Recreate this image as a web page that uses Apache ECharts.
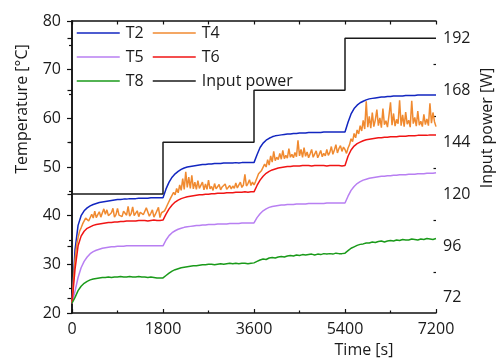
<!DOCTYPE html>
<html>
<head>
<meta charset="utf-8">
<script src="https://cdn.jsdelivr.net/npm/echarts@6/dist/echarts.min.js"></script>
<style>html,body{margin:0;padding:0;background:#fff}#c{width:496px;height:360px}</style>
</head>
<body>
<div id="c"></div>
<script>
// sampling steps of the temperature records (s)
const sampleStep = 60;
const t4Step = 30;

const T2 = [22.0, 33.0, 38.0, 40.0, 41.0, 41.6, 42.0, 42.3, 42.5, 42.7, 42.8, 42.9, 43.0, 43.1, 43.2, 43.3, 43.3, 43.4, 43.4, 43.5, 43.5, 43.5, 43.6, 43.6, 43.6, 43.6, 43.7, 43.7, 43.7, 43.7, 43.7,
  45.5, 46.9, 47.9, 48.6, 49.1, 49.5, 49.8, 50.0, 50.1, 50.2, 50.3, 50.4, 50.5, 50.5, 50.6, 50.6, 50.7, 50.7, 50.7, 50.8, 50.8, 50.8, 50.8, 50.9, 50.8, 50.9, 50.9, 50.9, 50.9, 50.9,
  52.5, 54.0, 54.9, 55.5, 55.9, 56.2, 56.4, 56.5, 56.6, 56.7, 56.8, 56.8, 56.9, 56.9, 57.0, 57.0, 57.0, 57.1, 57.1, 57.1, 57.1, 57.1, 57.2, 57.2, 57.2, 57.2, 57.2, 57.2, 57.2, 57.2,
  59.2, 60.9, 62.0, 62.7, 63.2, 63.5, 63.8, 64.0, 64.1, 64.2, 64.3, 64.4, 64.4, 64.5, 64.5, 64.6, 64.6, 64.6, 64.6, 64.7, 64.7, 64.7, 64.7, 64.8, 64.8, 64.8, 64.8, 64.8, 64.8, 64.8];

// T4 is recorded every 30 s (noisy sensor)
const T4 = [22.0, 27.0, 31.0, 33.8, 35.5, 36.8, 37.5, 38.3, 38.6, 39.5, 39.4, 38.9, 39.0, 40.3, 39.5, 40.9, 39.6, 40.2, 40.8, 39.7,
  39.8, 41.4, 40.3, 41.2, 40.0, 39.6, 40.6, 41.5, 39.7, 40.2, 41.5, 40.1, 40.2, 39.8, 40.9, 41.0, 40.1, 41.9, 39.9, 40.4,
  41.8, 40.0, 40.3, 41.0, 39.8, 40.7, 40.9, 40.2, 40.0, 41.6, 41.3, 39.9, 40.5, 41.2, 39.7, 40.3, 40.5, 41.7, 39.6, 40.6, 40.4,
  41.0, 41.6, 42.3, 42.6, 43.6, 43.2, 44.8, 44.3, 45.6, 44.7, 46.3, 45.2, 47.6, 45.4, 49.0, 45.8, 47.9, 45.6, 48.3, 45.5,
  46.9, 45.4, 47.2, 45.6, 46.0, 46.9, 45.3, 46.5, 45.4, 47.3, 45.5, 46.0, 45.2, 46.6, 45.5, 45.8, 46.4, 45.3, 45.9, 45.6,
  46.5, 45.4, 45.8, 46.2, 45.5, 46.1, 45.6, 46.7, 45.7, 46.0, 46.9, 45.8, 46.3, 48.5, 46.1, 46.6, 47.4, 46.2, 46.9, 46.3,
  47.0, 47.8, 48.6, 48.2, 49.3, 48.9, 50.6, 50.0, 51.5, 50.4, 52.3, 51.0, 53.2, 51.3, 52.0, 51.5, 52.8, 51.6, 53.4, 51.7,
  52.4, 51.8, 53.8, 52.0, 52.6, 51.9, 53.0, 52.1, 55.5, 52.3, 53.6, 52.0, 54.0, 52.2, 53.1, 51.9, 52.7, 53.6, 52.0, 52.4,
  53.3, 51.9, 52.6, 53.4, 52.1, 52.8, 52.3, 53.6, 52.4, 53.0, 54.2, 52.6, 53.5, 54.6, 52.9, 53.8, 54.4, 53.2, 54.1, 53.6,
  52.8, 53.9, 54.6, 55.8, 55.2, 56.9, 56.0, 57.6, 56.8, 58.5, 57.4, 59.6, 57.8, 63.5, 58.2, 60.4, 58.0, 61.2, 58.3, 59.7,
  61.8, 58.5, 60.1, 58.1, 62.0, 58.7, 59.5, 58.2, 60.6, 63.3, 58.6, 61.0, 58.4, 59.8, 58.9, 63.7, 58.5, 60.7, 58.3, 61.3,
  58.8, 59.6, 58.2, 63.6, 58.9, 60.2, 58.4, 61.5, 58.6, 59.4, 58.3, 60.8, 58.7, 59.9, 58.5, 63.1, 59.0, 61.2, 59.3, 58.3];

const T5 = [22.0, 24.5, 27.3, 29.3, 30.6, 31.5, 32.2, 32.6, 32.9, 33.1, 33.3, 33.4, 33.5, 33.6, 33.6, 33.7, 33.7, 33.7, 33.8, 33.8, 33.8, 33.8, 33.8, 33.8, 33.8, 33.8, 33.8, 33.8, 33.8, 33.8, 33.8,
  35.0, 35.9, 36.5, 36.9, 37.2, 37.4, 37.6, 37.7, 37.8, 37.9, 38.0, 38.0, 38.1, 38.1, 38.2, 38.2, 38.2, 38.3, 38.3, 38.3, 38.3, 38.4, 38.4, 38.4, 38.4, 38.5, 38.5, 38.5, 38.5, 38.5,
  39.6, 40.4, 41.0, 41.4, 41.7, 41.9, 42.0, 42.1, 42.2, 42.2, 42.3, 42.3, 42.3, 42.4, 42.4, 42.4, 42.4, 42.5, 42.5, 42.5, 42.5, 42.5, 42.5, 42.6, 42.6, 42.6, 42.6, 42.6, 42.6, 42.6,
  44.0, 45.2, 46.0, 46.6, 47.0, 47.3, 47.5, 47.7, 47.8, 47.9, 48.0, 48.1, 48.1, 48.2, 48.2, 48.3, 48.3, 48.4, 48.4, 48.4, 48.5, 48.5, 48.5, 48.6, 48.6, 48.6, 48.7, 48.7, 48.7, 48.8];

const T6 = [22.0, 29.0, 33.8, 35.8, 36.8, 37.4, 37.7, 38.0, 38.2, 38.3, 38.4, 38.5, 38.6, 38.6, 38.7, 38.7, 38.8, 38.8, 38.9, 38.9, 38.9, 38.9, 39.0, 39.0, 39.0, 38.9, 39.0, 39.1, 39.0, 39.0, 39.1,
  40.3, 41.4, 42.2, 42.8, 43.2, 43.5, 43.7, 43.9, 44.0, 44.1, 44.2, 44.3, 44.3, 44.4, 44.4, 44.5, 44.5, 44.6, 44.6, 44.6, 44.7, 44.7, 44.7, 44.8, 44.8, 44.8, 44.9, 44.8, 44.9, 44.9,
  46.2, 47.3, 48.1, 48.7, 49.1, 49.4, 49.6, 49.8, 49.9, 50.0, 50.1, 50.1, 50.2, 50.2, 50.2, 50.3, 50.3, 50.3, 50.2, 50.3, 50.3, 50.3, 50.3, 50.2, 50.3, 50.3, 50.3, 50.3, 50.2, 50.3,
  52.2, 53.5, 54.3, 54.8, 55.1, 55.4, 55.6, 55.7, 55.8, 55.9, 56.0, 56.0, 56.1, 56.1, 56.2, 56.2, 56.2, 56.3, 56.3, 56.3, 56.4, 56.4, 56.4, 56.5, 56.5, 56.5, 56.5, 56.6, 56.6, 56.6];

const T8 = [22.0, 23.2, 24.6, 25.5, 26.1, 26.5, 26.8, 27.0, 27.1, 27.2, 27.3, 27.3, 27.4, 27.3, 27.4, 27.4, 27.5, 27.4, 27.4, 27.5, 27.4, 27.4, 27.5, 27.4, 27.4, 27.3, 27.4, 27.3, 27.2, 27.2, 27.2,
  27.7, 28.2, 28.6, 28.9, 29.1, 29.3, 29.4, 29.5, 29.6, 29.7, 29.7, 29.8, 29.9, 29.9, 30.0, 30.0, 29.9, 30.0, 30.1, 30.0, 30.1, 30.2, 30.1, 30.2, 30.1, 30.2, 30.2, 30.1, 30.2, 30.3,
  30.6, 30.9, 31.1, 31.0, 31.3, 31.4, 31.3, 31.5, 31.6, 31.5, 31.7, 31.8, 31.7, 31.9, 31.8, 32.0, 31.9, 32.0, 32.1, 31.9, 32.1, 32.0, 32.2, 32.1, 32.2, 32.1, 32.3, 32.2, 32.2, 32.3,
  32.8, 33.3, 33.6, 33.9, 34.1, 34.2, 34.4, 34.4, 34.6, 34.5, 34.7, 34.8, 34.6, 34.8, 34.9, 34.8, 35.0, 34.9, 35.1, 35.0, 35.0, 35.2, 35.1, 35.0, 35.2, 35.1, 35.3, 35.2, 35.1, 35.3];

// input power steps
const powerTimes = [0, 1800, 3600, 5400, 7200];
const powerLevels = [120, 144, 168, 192];

// axis ticks
const powerTicks = [72, 96, 120, 144, 168, 192];
const powerMinorTicks = [84, 108, 132, 156, 180];

const seriesNames = ['T2', 'T4', 'T5', 'T6', 'T8'];
const seriesData = [T2, T4, T5, T6, T8];
const seriesSteps = [sampleStep, t4Step, sampleStep, sampleStep, sampleStep];
const seriesColors = ['#1226c0', '#f08a30', '#b87ff2', '#f01414', '#1a9a1a'];

const FONT = 'Open Sans';
const TXT = '#1a1a1a';

function pairs(arr, step) { return arr.map((v, i) => [i * step, v]); }

const powerData = powerTimes.map((t, i) => [t, powerLevels[Math.min(i, powerLevels.length - 1)]]);

const series = seriesNames.map((n, k) => ({
  name: n, type: 'line', data: pairs(seriesData[k], seriesSteps[k]), xAxisIndex: 0, yAxisIndex: 0,
  symbol: 'none', lineStyle: { color: seriesColors[k], width: 1.5 }, itemStyle: { color: seriesColors[k] },
  silent: true
}));
series.push({
  name: 'Input power', type: 'line', step: 'end', data: powerData, xAxisIndex: 0, yAxisIndex: 1,
  symbol: 'none', lineStyle: { color: '#1a1a1a', width: 1.5 }, itemStyle: { color: '#1a1a1a' }, silent: true
});

const axisLine = { show: true, lineStyle: { color: '#111', width: 1.5 } };
const legendBase = {
  orient: 'vertical', top: 25, padding: 0, itemWidth: 43, itemHeight: 14, itemGap: 8,
  itemStyle: { opacity: 0 },
  lineStyle: { width: 1.5 },
  textStyle: { fontFamily: FONT, fontSize: 16, color: TXT, lineHeight: 16, padding: [0, 0, 0, 1] },
  selectedMode: false
};

const option = {
  animation: false,
  backgroundColor: '#fff',
  grid: { left: 72, right: 60, top: 21, bottom: 47, containLabel: false },
  legend: [
    Object.assign({}, legendBase, { left: 76, data: ['T2', 'T5', 'T8'] }),
    Object.assign({}, legendBase, { left: 152, data: ['T4', 'T6', 'Input power'] })
  ],
  xAxis: [
    { type: 'value', min: 0, max: 7200, interval: 1800, position: 'bottom',
      axisLine: axisLine,
      axisTick: { show: true, inside: true, length: 4, lineStyle: { color: '#111', width: 1.2 } },
      minorTick: { show: true, splitNumber: 2, length: 2.5, lineStyle: { color: '#111', width: 1.2 } },
      splitLine: { show: false },
      axisLabel: { fontFamily: FONT, fontSize: 16, color: TXT, margin: 8, formatter: v => String(v) } },
    { type: 'value', min: 0, max: 7200, interval: 1800, position: 'top',
      axisLine: axisLine,
      axisTick: { show: true, inside: true, length: 3.5, lineStyle: { color: '#111', width: 1.2 } },
      minorTick: { show: true, splitNumber: 2, length: 3.5, lineStyle: { color: '#111', width: 1.2 } },
      splitLine: { show: false }, axisLabel: { show: false } }
  ],
  yAxis: [
    { type: 'value', min: 20, max: 80, interval: 10, position: 'left',
      axisLine: axisLine,
      axisTick: { show: true, inside: false, length: 5, lineStyle: { color: '#111', width: 1.2 } },
      minorTick: { show: true, splitNumber: 2, length: 3, lineStyle: { color: '#111', width: 1.2 } },
      splitLine: { show: false },
      axisLabel: { fontFamily: FONT, fontSize: 16, color: TXT, margin: 11 } },
    { type: 'value', min: 65, max: 200, position: 'right',
      axisLine: axisLine,
      axisTick: { show: true, inside: true, length: 4.5, customValues: powerTicks, lineStyle: { color: '#111', width: 1.2 } },
      splitLine: { show: false },
      axisLabel: { fontFamily: FONT, fontSize: 16, color: TXT, margin: 7, customValues: powerTicks } },
    { type: 'value', min: 65, max: 200, position: 'right',
      axisLine: { show: false },
      axisTick: { show: true, inside: true, length: 2.5, customValues: powerMinorTicks, lineStyle: { color: '#111', width: 1.2 } },
      splitLine: { show: false },
      axisLabel: { show: false } }
  ],
  graphic: [
    { type: 'text', x: 22, y: 109, rotation: Math.PI / 2,
      style: { text: 'Temperature [°C]', fontFamily: FONT, fontSize: 16, fill: TXT, align: 'center', verticalAlign: 'middle' } },
    { type: 'text', x: 487, y: 128, rotation: Math.PI / 2,
      style: { text: 'Input power [W]', fontFamily: FONT, fontSize: 16, fill: TXT, align: 'center', verticalAlign: 'middle' } },
    { type: 'text', x: 364, y: 350,
      style: { text: 'Time [s]', fontFamily: FONT, fontSize: 16, fill: TXT, align: 'center', verticalAlign: 'middle' } }
  ],
  series: series
};

const chart = echarts.init(document.getElementById('c'), null, { renderer: 'canvas' });
chart.setOption(option);
</script>
</body>
</html>
